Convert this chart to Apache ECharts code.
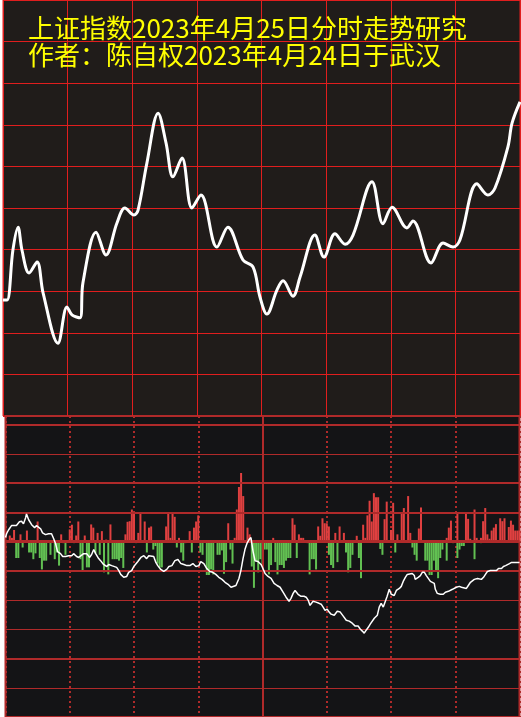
<!DOCTYPE html>
<html>
<head>
<meta charset="utf-8">
<script src="https://cdn.jsdelivr.net/npm/echarts@6/dist/echarts.min.js"></script>
<style>
html,body{margin:0;padding:0;background:#ffffff;}
#chart{width:521px;height:717px;}
</style>
</head>
<body>
<div id="chart"></div>
<script>
// ---- data ----
var titleLines = ['上证指数2023年4月25日分时走势研究', '作者：陈自权2023年4月24日于武汉'];

// top panel: intraday index path [minute, level in grid units]
var priceLine = [
  [0,2.79],[1.9,2.79],[4.6,3.99],[7.0,4.54],[8.8,3.99],[12.1,3.44],[15.8,3.70],[18.6,2.96],
  [25.5,1.75],[29.7,2.62],[32.0,2.43],[35.7,2.36],[37.1,3.2],[43.2,4.42],[47.8,3.87],[52.9,4.64],
  [56.6,5.0],[60.8,4.83],[62.7,4.95],[66.8,6.08],[72.0,7.28],[75.7,6.56],[78.9,5.75],[83.1,6.2],
  [87.7,5.0],[91.9,5.31],[99.3,4.06],[104.4,4.54],[111.4,3.75],[116.1,3.58],[119.3,2.86],[122.5,2.45],
  [127.2,3.03],[130.0,3.25],[134.6,2.88],[137.9,3.34],[144.8,4.35],[149.0,3.82],[154.1,4.38],
  [158.8,4.13],[162.5,4.35],[171.3,5.63],[176.4,4.62],[180.6,5.02],[187.5,4.52],[190.3,4.69],
  [198.7,3.68],[204.3,4.16],[208.9,4.06],[212.1,4.23],[220.0,5.58],[225.1,5.31],[228.4,5.48],
  [234.4,6.47],[236.3,7.04],[240,7.55]
];

// bottom panel: rising bars [minute, value]
var riseBars = [
  [2,0.21],[3,0.13],[4,0.4],[7,0.25],[10,0.38],[15,0.69],[26,0.25],[30,0.42],[31,0.58],[33,0.21],
  [34,0.69],[37,0.21],[40,0.59],[41,0.48],[43,0.3],[45,0.36],[47,0.07],[49,0.59],[56,0.25],[57,0.68],
  [58,0.7],[59,1.1],[60,0.95],[62,0.3],[63,1.0],[65,0.69],[67,0.48],[68,0.52],[75,0.52],[76,0.95],
  [77,0.13],[78,1.0],[79,0.85],[81,0.13],[86,0.36],[88,0.48],[89,0.69],[90,0.9],[104,0.63],[107,0.13],
  [108,1.1],[109,1.87],[110,2.35],[111,1.56],[113,0.48],[114,0.25],[125,0.13],[134,0.8],[135,0.58],
  [137,0.25],[138,0.13],[139,0.13],[146,0.52],[147,0.2],[148,0.8],[149,0.63],[150,0.63],[151,0.52],
  [154,0.3],[156,0.52],[158,0.3],[164,0.2],[167,0.58],[168,0.13],[169,0.9],[170,1.4],[171,0.69],
  [172,1.66],[173,1.52],[174,1.52],[177,0.77],[178,1.37],[180,0.4],[181,1.33],[183,0.25],[185,0.95],
  [186,1.15],[188,1.56],[189,0.3],[193,0.45],[194,1.17],[206,0.13],[207,0.48],[208,0.72],[211,1.0],
  [215,1.0],[216,0.78],[217,0.1],[219,1.1],[220,0.13],[222,0.13],[223,0.7],[224,1.15],[225,0.25],
  [226,0.1],[227,0.38],[228,0.48],[229,0.6],[231,0.8],[232,0.7],[233,0.8],[235,0.5],[236,0.72],
  [237,0.58],[238,0.38],[239,0.38],[240,0.38]
];

// bottom panel: falling bars [minute, value]
var fallBars = [
  [5,-0.56],[6,-0.56],[8,-0.2],[11,-0.37],[12,-0.37],[13,-0.6],[14,-0.4],[16,-0.56],[17,-0.95],
  [18,-0.65],[19,-0.65],[21,-0.45],[23,-0.6],[24,-0.37],[25,-0.82],[27,-0.05],[28,-0.45],[32,-0.05],
  [35,-0.6],[36,-1.0],[38,-0.88],[39,-0.88],[42,-0.4],[44,-0.45],[46,-1.05],[48,-1.12],[50,-0.6],
  [51,-0.6],[52,-0.6],[53,-0.65],[54,-0.56],[55,-0.9],[61,-0.05],[66,-0.37],[69,-0.27],[70,-0.15],
  [71,-0.75],[72,-0.88],[73,-0.88],[80,-0.2],[82,-0.37],[83,-0.65],[84,-0.05],[87,-0.37],[91,-0.37],
  [92,-0.45],[94,-1.14],[95,-1.14],[96,-0.95],[97,-1.12],[99,-0.45],[100,-0.45],[101,-0.3],[102,-1.1],
  [103,-0.7],[105,-0.27],[106,-0.75],[115,-0.85],[116,-1.58],[117,-0.65],[118,-1.05],[119,-0.6],
  [120,-0.85],[121,-0.27],[122,-0.27],[123,-1.12],[124,-0.8],[126,-0.7],[127,-1.12],[128,-0.8],
  [129,-0.8],[130,-0.9],[131,-0.65],[132,-0.56],[133,-0.56],[136,-0.56],[141,-0.05],[142,-1.12],
  [143,-0.6],[144,-0.6],[145,-0.95],[151,-0.45],[152,-0.8],[153,-0.9],[155,-0.7],[159,-0.37],
  [160,-1.05],[161,-0.9],[162,-0.45],[165,-0.56],[166,-1.25],[175,-0.25],[176,-0.45],[182,-0.37],
  [190,-0.2],[191,-0.45],[192,-0.65],[196,-0.65],[197,-0.65],[198,-1.14],[199,-1.14],[200,-0.65],
  [201,-1.0],[202,-1.25],[203,-0.56],[204,-0.27],[206,-0.65],[209,-0.05],[211,-0.56],[212,-0.27],
  [213,-0.15],[214,-0.15],[219,-0.6],[222,-0.05]
];

// bottom panel: thin white line [minute, value]
var flowLine = [
  [0,0.14],[0.5,0.27],[1.4,0.4],[2.8,0.55],[3.7,0.61],[5.1,0.55],[6.5,0.68],[7.5,0.7],[8.4,0.61],
  [9.4,0.82],[9.8,0.95],[10.8,0.75],[12.2,0.58],[13.6,0.48],[14.5,0.55],[15.4,0.58],[16.4,0.44],
  [17.3,0.3],[18.7,0.24],[20.1,0.27],[21.5,0.27],[22.5,0.1],[23.4,-0.07],[24.3,-0.34],[25.7,-0.41],
  [26.7,-0.51],[28.1,-0.51],[29.5,-0.48],[30.9,-0.48],[31.8,-0.41],[33.2,-0.51],[34.2,-0.54],
  [35.1,-0.48],[36.5,-0.41],[37.9,-0.41],[39.3,-0.54],[40.2,-0.44],[41.2,-0.27],[42.1,-0.41],
  [43.5,-0.58],[44.4,-0.65],[45.8,-0.78],[47.3,-0.85],[48.2,-0.78],[49.6,-0.82],[50.5,-0.88],
  [51.9,-0.88],[52.9,-0.99],[53.8,-1.12],[55.2,-1.22],[56.6,-1.19],[57.5,-1.05],[58.9,-0.99],
  [59.9,-0.85],[61.8,-0.68],[63.2,-0.54],[64.6,-0.48],[65.9,-0.58],[66.9,-0.48],[67.8,-0.44],
  [69.2,-0.51],[70.2,-0.71],[71.1,-0.82],[72.5,-0.95],[73.9,-1.02],[75.3,-0.95],[76.3,-0.85],
  [77.7,-0.82],[79.1,-0.65],[80.5,-0.61],[81.9,-0.75],[83.3,-0.78],[84.7,-0.82],[86.1,-0.82],
  [87.5,-0.75],[88.9,-0.85],[90.3,-0.82],[91.2,-0.68],[92.6,-0.75],[94.0,-0.92],[95.4,-1.02],
  [96.8,-1.05],[98.2,-1.12],[99.6,-1.22],[101.1,-1.29],[102.5,-1.39],[103.9,-1.46],[105.3,-1.56],
  [106.2,-1.5],[107.6,-1.5],[108.5,-1.53],[109.0,-1.26],[109.9,-0.99],[110.9,-0.58],[111.8,-0.27],
  [112.7,-0.07],[113.7,0.07],[114.6,0.14],[115.6,-0.34],[116.5,-0.65],[117.9,-0.68],[119.3,-0.78],
  [119.8,-0.85],[121.2,-1.09],[122.6,-1.19],[124.0,-1.26],[125.4,-1.43],[126.8,-1.5],[128.2,-1.56],
  [129.6,-1.73],[131.0,-1.9],[132.4,-2.04],[133.3,-1.94],[134.3,-1.77],[135.2,-1.67],[136.6,-1.8],
  [138.0,-1.87],[139.4,-1.87],[140.4,-1.9],[141.3,-2.0],[142.2,-2.18],[143.6,-2.04],[145.0,-2.07],
  [146.4,-2.11],[147.4,-2.14],[148.3,-2.24],[149.2,-2.35],[150.2,-2.31],[151.1,-2.41],[152.0,-2.48],
  [153.5,-2.52],[154.9,-2.38],[156.3,-2.41],[157.7,-2.55],[159.1,-2.69],[160.5,-2.72],[161.9,-2.79],
  [163.3,-2.89],[164.7,-2.89],[165.6,-2.99],[166.6,-3.06],[167.5,-3.13],[168.4,-3.03],[169.4,-2.93],
  [170.3,-2.82],[171.2,-2.76],[172.2,-2.62],[173.6,-2.52],[174.5,-2.24],[175.4,-2.11],[176.4,-2.24],
  [177.3,-2.18],[178.2,-1.87],[179.2,-1.63],[180.1,-1.8],[181.5,-1.84],[182.5,-1.67],[183.9,-1.6],
  [184.8,-1.53],[185.7,-1.36],[186.7,-1.22],[187.6,-1.12],[188.5,-1.09],[189.9,-1.09],[190.9,-1.16],
  [191.3,-1.29],[192.7,-1.22],[193.7,-1.16],[194.6,-1.05],[195.6,-1.05],[196.5,-1.16],[197.4,-1.19],
  [198.4,-1.36],[199.3,-1.39],[200.2,-1.43],[200.7,-1.63],[201.6,-1.77],[203.0,-1.8],[204.4,-1.8],
  [205.4,-1.73],[206.8,-1.7],[207.7,-1.73],[208.7,-1.63],[209.6,-1.6],[210.5,-1.56],[211.9,-1.53],
  [212.9,-1.56],[213.8,-1.53],[215.2,-1.6],[216.1,-1.5],[217.1,-1.39],[218.0,-1.33],[218.9,-1.29],
  [220.4,-1.26],[221.3,-1.26],[222.2,-1.29],[223.2,-1.22],[224.1,-1.12],[225.0,-1.02],[226.4,-0.99],
  [227.4,-0.99],[228.3,-1.02],[229.2,-0.99],[230.2,-0.92],[231.6,-0.92],[232.5,-0.85],[233.5,-0.82],
  [234.4,-0.82],[235.3,-0.75],[236.3,-0.71],[237.2,-0.71],[238.6,-0.71],[240,-0.71]
];

// ---- chart ----
var RED_TOP = '#e01e1e';
var RED_BOT = '#b02a2a';
var chart = echarts.init(document.getElementById('chart'), null, {renderer: 'canvas'});

var hidden = {axisLine:{show:false}, axisTick:{show:false}, axisLabel:{show:false}};

chart.setOption({
  animation: false,
  backgroundColor: '#ffffff',
  title: {
    text: titleLines.join('\n'),
    left: 23, top: 10,
    textStyle: {color:'#ffff00', fontSize:26, lineHeight:27, fontWeight:'normal',
      fontFamily:'"Noto Sans CJK SC", sans-serif'}
  },
  grid: [
    {left:3, top:0, width:517, height:416, show:true, backgroundColor:'#201c1a',
      borderColor:RED_TOP, borderWidth:1},
    {left:5.5, top:416, width:514, height:303, show:true, backgroundColor:'#141416',
      borderColor:RED_BOT, borderWidth:2}
  ],
  xAxis: [
    Object.assign({gridIndex:0, type:'value', min:0, max:240, interval:30,
      splitLine:{show:true, lineStyle:{color:RED_TOP, width:1}}}, hidden),
    Object.assign({gridIndex:1, type:'value', min:0, max:240, interval:30,
      splitLine:{show:true, lineStyle:{color:RED_BOT, width:2, type:[2,3]}}}, hidden)
  ],
  yAxis: [
    Object.assign({gridIndex:0, type:'value', min:0, max:10, interval:1,
      splitLine:{show:true, lineStyle:{color:RED_TOP, width:1}}}, hidden),
    Object.assign({gridIndex:1, type:'value', min:-6, max:4.3, interval:1,
      splitLine:{show:true, lineStyle:{color:RED_BOT, width:1}}}, hidden)
  ],
  series: [
    {
      type:'line', xAxisIndex:0, yAxisIndex:0, data:priceLine, smooth:0.35,
      symbol:'none', lineStyle:{color:'#ffffff', width:3}, z:5
    },
    {
      type:'bar', xAxisIndex:1, yAxisIndex:1, data:riseBars, barWidth:2, barGap:'-100%',
      itemStyle:{color:'#e04040'}, z:2,
      markLine:{
        silent:true, symbol:'none', label:{show:false}, z:3,
        data:[
          {yAxis:4, lineStyle:{color:RED_BOT, width:2, type:'solid'}},
          {yAxis:2, lineStyle:{color:RED_BOT, width:2, type:'solid'}},
          {yAxis:1, lineStyle:{color:RED_BOT, width:2, type:'solid'}},
          {yAxis:0, lineStyle:{color:RED_BOT, width:3, type:'solid'}},
          {yAxis:-1, lineStyle:{color:RED_BOT, width:2, type:'solid'}},
          {yAxis:-4, lineStyle:{color:RED_BOT, width:2, type:'solid'}},
          {xAxis:120, lineStyle:{color:RED_BOT, width:2, type:'solid'}}
        ]
      }
    },
    {
      type:'bar', xAxisIndex:1, yAxisIndex:1, data:fallBars, barWidth:2, barGap:'-100%',
      itemStyle:{color:'#62c052'}, z:2
    },
    {
      type:'line', xAxisIndex:1, yAxisIndex:1, data:flowLine, symbol:'none',
      lineStyle:{color:'#ffffff', width:1.5}, z:6
    }
  ]
});
</script>
</body>
</html>
